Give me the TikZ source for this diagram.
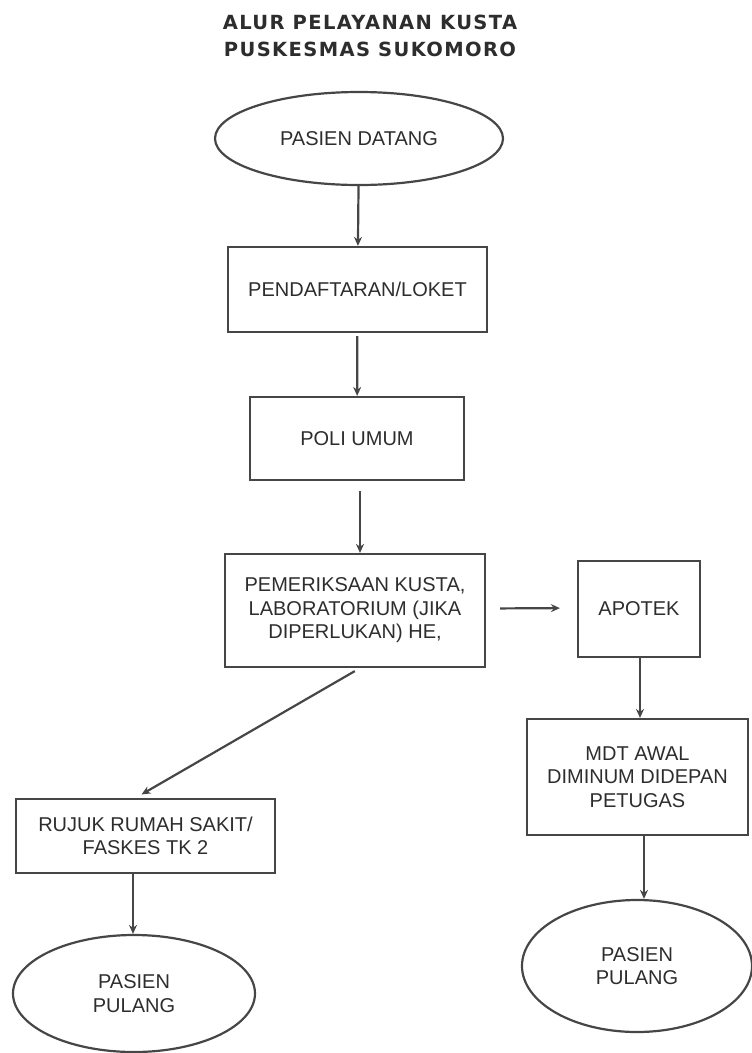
\documentclass[tikz,border=0pt]{standalone}
\usepackage{fontspec}
\setmainfont{Liberation Sans}
\newfontfamily\judulfont[LetterSpace=7]{DejaVu Sans}
\usetikzlibrary{shapes.geometric}
\usetikzlibrary{arrows.meta}
\definecolor{garis}{RGB}{70,70,70}
\definecolor{tulisan}{RGB}{45,45,45}

\begin{document}
\begin{tikzpicture}[x=1pt, y=-1pt, garis,
    kotak/.style={draw, line width=2.2pt, rectangle, inner sep=0pt, align=center, text=tulisan, font=\fontsize{20}{23.5}\selectfont},
    lonjong/.style={draw, line width=2.2pt, ellipse, inner sep=0pt, align=center, text=tulisan, font=\fontsize{20}{23.5}\selectfont},
    panah/.style={line width=2.2pt, -{Stealth[length=9pt,width=8pt]}}]

    \useasboundingbox (0,0) rectangle (752,1053);

    \node[text=tulisan, align=center, font=\judulfont\bfseries\fontsize{19.5}{27}\selectfont] (judul) at (370,35.5) {ALUR PELAYANAN KUSTA\\PUSKESMAS SUKOMORO};

    \node[lonjong, minimum width=288pt, minimum height=93pt] (datang) at (359,138.5) {PASIEN DATANG};

    \node[kotak, minimum width=259pt, minimum height=85pt] (daftar) at (357.5,289.5) {PENDAFTARAN/LOKET};

    \node[kotak, minimum width=214pt, minimum height=83pt] (poli) at (357,438.5) {POLI UMUM};

    \node[kotak, minimum width=260pt, minimum height=113pt] (periksa) at (355,610.5) {PEMERIKSAAN KUSTA,\\LABORATORIUM (JIKA\\DIPERLUKAN) HE,};

    \node[kotak, minimum width=122pt, minimum height=96pt] (apotek) at (639,609) {APOTEK};

    \node[kotak, minimum width=221pt, minimum height=116pt] (mdt) at (637.5,777) {MDT AWAL\\DIMINUM DIDEPAN\\PETUGAS};

    \node[kotak, minimum width=259pt, minimum height=74pt] (rujuk) at (145.5,836) {RUJUK RUMAH SAKIT/\\FASKES TK 2};

    \node[lonjong, minimum width=242pt, minimum height=117pt] (pulangkiri) at (134,993.5) {PASIEN\\PULANG};

    \node[lonjong, minimum width=230pt, minimum height=132pt] (pulangkanan) at (637,966) {PASIEN\\PULANG};


    \draw[panah] (datang) -- (daftar);

    \draw[panah, shorten <=3pt] (daftar) -- (poli);

    \draw[panah, shorten <=10pt] ([xshift=3pt]poli.south) -- ([xshift=5pt]periksa.north);

    \draw[panah, shorten <=14pt, shorten >=17pt] ([yshift=2pt]periksa.east) -- ([yshift=1pt]apotek.west);

    \draw[panah] ([xshift=1pt]apotek.south) -- ([xshift=2.5pt]mdt.north);

    \draw[panah] ([xshift=6.5pt]mdt.south) -- ([xshift=7pt]pulangkanan.north);

    \draw[panah, shorten <=6pt, shorten >=7pt] ([xshift=5pt]periksa.south) -- ([xshift=-10pt]rujuk.north);

    \draw[panah] ([xshift=-12.5pt]rujuk.south) -- ([xshift=-1pt]pulangkiri.north);

\end{tikzpicture}
\end{document}
